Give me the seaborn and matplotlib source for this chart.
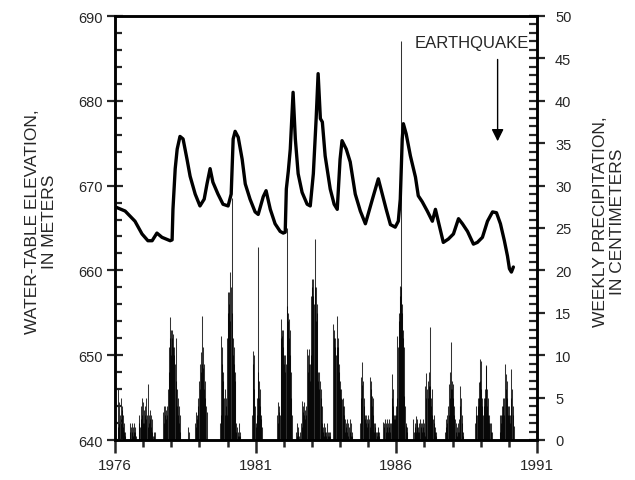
import numpy as np
import matplotlib
matplotlib.use("Agg")
import matplotlib.pyplot as plt
import seaborn as sns

# water-table elevation (m)
wt_year = [1976.00, 1976.36, 1976.71, 1976.96, 1977.17, 1977.32, 1977.49, 1977.67, 1977.96, 1978.03,
           1978.06, 1978.14, 1978.21, 1978.31, 1978.42, 1978.56, 1978.67, 1978.85, 1979.02, 1979.17,
           1979.27, 1979.38, 1979.48, 1979.66, 1979.84, 1980.02, 1980.13, 1980.20, 1980.27, 1980.38,
           1980.52, 1980.63, 1980.80, 1980.98, 1981.09, 1981.27, 1981.37, 1981.52, 1981.69, 1981.87,
           1981.98, 1982.05, 1982.09, 1982.16, 1982.23, 1982.33, 1982.41, 1982.51, 1982.65, 1982.83,
           1982.94, 1983.05, 1983.15, 1983.22, 1983.30, 1983.37, 1983.47, 1983.65, 1983.79, 1983.90,
           1984.00, 1984.07, 1984.22, 1984.36, 1984.54, 1984.72, 1984.90, 1984.97, 1985.15, 1985.36,
           1985.50, 1985.64, 1985.79, 1985.96, 1986.07, 1986.14, 1986.21, 1986.25, 1986.35, 1986.50,
           1986.68, 1986.78, 1986.92, 1987.10, 1987.28, 1987.39, 1987.49, 1987.67, 1987.85, 1988.03,
           1988.21, 1988.35, 1988.53, 1988.74, 1988.88, 1989.06, 1989.24, 1989.42, 1989.56, 1989.70,
           1989.84, 1989.95, 1990.02, 1990.09, 1990.16]
wt_elev = [667.5, 667.0, 665.8, 664.3, 663.5, 663.5, 664.4, 663.9, 663.5, 663.6,
           667.2, 672.0, 674.3, 675.8, 675.5, 673.1, 671.1, 669.0, 667.6, 668.4,
           670.2, 672.0, 670.4, 669.0, 667.8, 667.6, 669.0, 675.5, 676.4, 675.7,
           673.1, 670.2, 668.4, 666.9, 666.6, 668.7, 669.4, 667.2, 665.5, 664.6,
           664.4, 664.5, 669.6, 671.7, 674.3, 681.0, 675.5, 671.4, 669.2, 667.8,
           667.6, 671.4, 677.9, 683.2, 677.9, 677.5, 673.5, 669.6, 667.8, 667.2,
           673.1, 675.3, 674.3, 672.8, 669.0, 667.0, 665.5, 666.3, 668.4, 670.8,
           669.0, 667.2, 665.4, 665.1, 665.8, 668.4, 675.5, 677.3, 676.1, 673.5,
           671.0, 668.8, 668.1, 667.0, 665.8, 667.2, 665.8, 663.3, 663.7, 664.3,
           666.1, 665.5, 664.6, 663.1, 663.3, 663.9, 665.8, 666.9, 666.8, 665.5,
           663.5, 661.7, 660.2, 659.8, 660.4]

# weekly precipitation (cm), one list per rainy season, starting at the given decimal year
rain_1976 = [1.5, 6.0, 2.0, 4.5, 3.0, 5.0, 2.5, 3.5, 4.0, 1.5, 3.0, 2.0, 1.0, 0.5, 1.0]
rain_1976b = [1.0, 2.0, 1.5, 1.0, 2.0, 0.5, 1.5, 1.0, 2.0, 1.0, 1.5, 0.5]
rain_1977 = [2, 3, 1.5, 4, 2.5, 5, 3, 4.5, 2, 3.5, 2, 4, 3, 5, 2.5, 3, 1.5, 6.6,
             3, 2, 3.5, 2.5, 3, 1.5, 2.5, 1, 0.5, 1, 0.5, 1]
rain_1978 = [3.3, 2, 4, 3, 4, 2.5, 3.5, 4, 3, 6, 8, 11, 14.5, 12, 13, 10,
             13, 12, 11, 12.5, 10, 11, 9, 12, 7, 6, 4, 5, 3, 4, 2, 3, 1]
rain_1978b = [1.5, 0, 1]
rain_1979 = [2, 3.3, 1.5, 3, 2.5, 4, 5, 7, 6, 9, 8, 10.4, 9, 14.6, 11,
             8.5, 9, 6, 7, 5, 4, 3.3]
rain_1980 = [2, 3, 12.3, 11, 9, 7, 8, 5, 6, 3, 4, 5, 3, 12, 17.5, 15, 16, 17.5, 14,
             19.8, 18, 15, 28.5, 12, 10, 9, 11, 7, 8, 2, 1, 1.5, 0.5, 1, 2, 0.5, 1, 0.5]
rain_1981 = [3, 10.5, 9, 10, 6, 4, 2, 1.5, 3, 5, 22.8, 8, 7, 5, 6, 4, 3, 2.5, 1.5]
rain_1982 = [3, 4.5, 2, 3.3, 4, 3, 14.3, 12, 13, 12.3, 11, 13, 10, 9, 10, 8, 9, 25,
             15.8, 14, 15, 14.3, 12, 13, 10, 8, 5, 3]
rain_1983 = [1, 2, 0.5, 1.5, 1, 0, 0.5, 1, 0, 2, 1.5, 4.6, 3.3, 4, 3, 4.5, 2.5, 3.5, 4, 3,
             10.7, 8, 10, 9, 10.7, 7, 9, 10, 17, 19, 18, 17, 19, 16, 18, 23.7, 18, 14, 16, 15,
             8, 7, 8, 6, 7, 5, 6, 4, 2, 1, 1.5, 2, 0.5, 1, 1.5, 0.5, 1, 2, 1, 0.5, 1, 0.5, 1, 0.5]
rain_1984 = [13.7, 12, 13, 11, 12, 10, 11, 14.6, 12, 11, 9, 8, 6.9, 6, 5, 6, 4.8, 4, 5, 3, 4,
             2.5, 1, 2, 1.5, 2.5, 1, 2, 0.5, 1.5, 2.5, 1, 2, 0.5, 1, 0.5]
rain_1985 = [2, 7.4, 5, 9.2, 6.5, 7, 5, 4, 2.5, 3, 2, 3, 1.5, 2.5, 3, 2, 2.5, 1.5,
             7.4, 6, 7, 5.2, 4, 5, 3, 2, 1, 1.5, 2, 1, 0.5, 1, 1.5, 1, 0.5, 1]
rain_1986 = [2.1, 1.5, 2, 2.5, 1, 2, 1.5, 2.5, 2, 1, 2.5, 1.5, 2, 1, 2, 7.8, 5, 6, 4, 3, 2.5, 3,
             2.5, 4, 3, 5, 12.3, 11, 14, 15, 18.2, 17, 47, 18, 16, 15, 12, 13, 11,
             5.2, 4, 2, 1.7, 1, 1.5]
rain_1987 = [2.5, 1, 2, 1.5, 2.8, 1, 2, 2.5, 1, 1.5, 2, 1, 2.5, 1.5, 2, 1, 2, 1.5, 2.5, 1, 2, 0.5,
             6.4, 5, 7.9, 6, 5, 7, 6.4, 8, 13.3, 6.4, 5, 4, 6, 3, 2.5, 3, 2, 1, 1.5, 0.5, 1]
rain_1988 = [1, 2.5, 1.5, 3, 2, 4, 3, 6.6, 5, 8, 6, 11.6, 7, 6, 5, 6.6, 4, 3,
             2.5, 1, 2, 1.5, 0.5, 1, 2, 1, 2.5, 4, 6.4, 5, 3, 2, 1, 0.5]
rain_1989 = [2, 3, 4, 3, 5, 4, 6.8, 5, 9.5, 7, 9.3, 6, 5, 4, 3, 4, 5,
             6, 5, 8.7, 8.8, 6, 4, 5, 3, 2, 3, 2, 1, 2, 1]
rain_1990 = [1, 3, 2, 3, 4, 3, 5, 4, 3, 5, 9, 7.8, 6, 7, 5, 4, 3, 4, 3, 2,
             3, 5, 8.4, 6, 4, 3, 1.7]

rain_start = [1976.10, 1976.53, 1976.85, 1977.71, 1978.60, 1978.85, 1979.74, 1980.88,
              1981.77, 1982.44, 1983.76, 1984.72, 1985.54, 1986.61, 1987.74, 1988.81, 1989.67]
rain_seasons = [rain_1976, rain_1976b, rain_1977, rain_1978, rain_1978b, rain_1979, rain_1980,
                rain_1981, rain_1982, rain_1983, rain_1984, rain_1985, rain_1986, rain_1987,
                rain_1988, rain_1989, rain_1990]

quake_year = 1989.6

sns.set_style("ticks")
plt.rcParams['font.family'] = ['Liberation Sans', 'DejaVu Sans']

fig = plt.figure(figsize=(6.35, 4.81), dpi=100)
ax = fig.add_axes([115 / 635, 1 - 441 / 481, 422 / 635, 424 / 481])
ax2 = ax.twinx()

# weekly precipitation as thin stems on the right axis
wk = 1 / 52
for start, vals in zip(rain_start, rain_seasons):
    xs = start + np.arange(len(vals)) * wk
    ax2.vlines(xs, 0, vals, color='black', linewidth=0.75, alpha=0.8)

# water table on the left axis, drawn above the bars
ax.set_zorder(ax2.get_zorder() + 1)
ax.patch.set_visible(False)
sns.lineplot(x=wt_year, y=wt_elev, ax=ax, color='black', linewidth=2.4, sort=False)

ax.set_xlim(1976, 1991)
ax.set_ylim(640, 690)
ax2.set_ylim(0, 50)
ax.set_xticks([1976, 1981, 1986, 1991])
ax.set_xticks(range(1976, 1992), minor=True)
ax.set_yticks(range(640, 691, 10))
ax.set_yticks(range(640, 691, 2), minor=True)
ax2.set_yticks(range(0, 51, 5))
ax2.set_yticks(range(0, 51, 1), minor=True)

for a in (ax, ax2):
    for s in a.spines.values():
        s.set_linewidth(1.8)
        s.set_color('black')
ax.tick_params(axis='x', which='major', direction='out', length=9, width=1.8, labelsize=11, pad=4)
ax.tick_params(axis='x', which='minor', direction='out', length=5, width=1.8)
ax.tick_params(axis='y', which='major', direction='inout', length=12, width=1.6, labelsize=10.5, pad=3)
ax.tick_params(axis='y', which='minor', direction='in', length=5, width=1.6)
ax2.tick_params(axis='y', which='major', direction='inout', length=12, width=1.6, labelsize=10.5, pad=7)
ax2.tick_params(axis='y', which='minor', direction='in', length=6, width=1.6)
ax.set_xlabel('')
ax.set_ylabel('')

fig.text(41 / 635, 1 - 222 / 481, 'WATER-TABLE ELEVATION,\nIN METERS', rotation=90,
         ha='center', va='center', multialignment='center', fontsize=12.5, linespacing=1.15)
fig.text(609 / 635, 1 - 222 / 481, 'WEEKLY PRECIPITATION,\nIN CENTIMETERS', rotation=90,
         ha='center', va='center', multialignment='center', fontsize=12.5, linespacing=1.15)

ax.annotate('', xy=(quake_year, 674.9), xytext=(quake_year, 685.2),
            arrowprops=dict(arrowstyle='-|>', color='black', lw=1.0, mutation_scale=18))
ax.text(1988.67, 686.9, 'EARTHQUAKE', ha='center', va='center', fontsize=12)

fig.savefig('out.png', dpi=100)
